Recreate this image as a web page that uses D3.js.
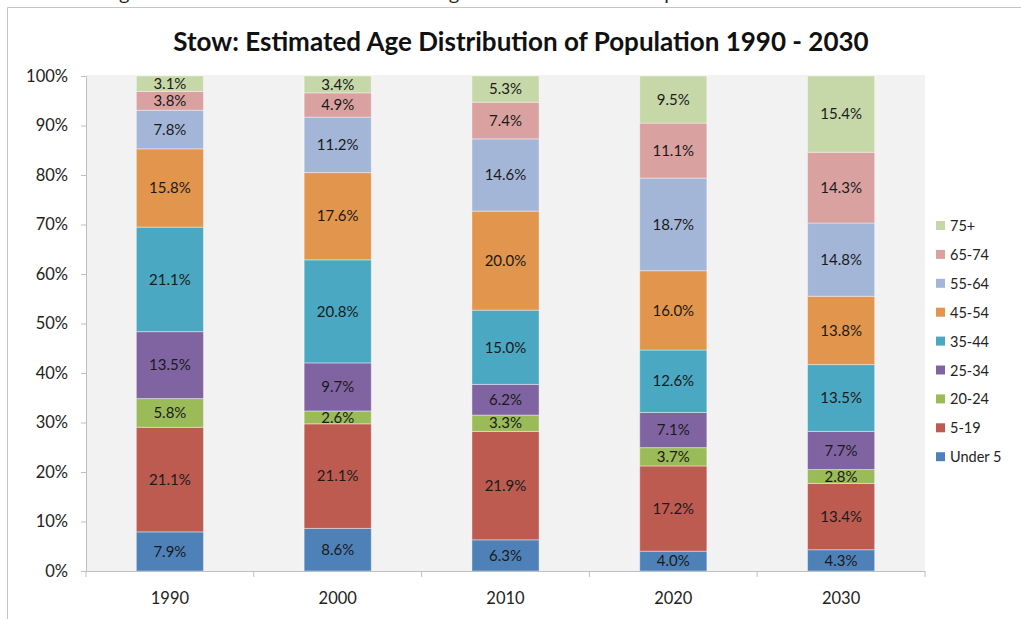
<!DOCTYPE html>
<html>
<head>
<meta charset="utf-8">
<script src="https://cdn.jsdelivr.net/npm/d3@7"></script>
<style>
  html, body { margin: 0; padding: 0; background: #fff; }
  svg { display: block; font-family: Lato, "Open Sans", sans-serif; }
</style>
</head>
<body>
<svg id="chart" width="1021" height="619"></svg>
<script>
const years = ["1990", "2000", "2010", "2020", "2030"];
const groups = ["Under 5", "5-19", "20-24", "25-34", "35-44", "45-54", "55-64", "65-74", "75+"];
const under5 = [7.9, 8.6, 6.3, 4.0, 4.3];
const age5to19 = [21.1, 21.1, 21.9, 17.2, 13.4];
const age20to24 = [5.8, 2.6, 3.3, 3.7, 2.8];
const age25to34 = [13.5, 9.7, 6.2, 7.1, 7.7];
const age35to44 = [21.1, 20.8, 15.0, 12.6, 13.5];
const age45to54 = [15.8, 17.6, 20.0, 16.0, 13.8];
const age55to64 = [7.8, 11.2, 14.6, 18.7, 14.8];
const age65to74 = [3.8, 4.9, 7.4, 11.1, 14.3];
const age75plus = [3.1, 3.4, 5.3, 9.5, 15.4];
const yTicks = [0, 0.1, 0.2, 0.3, 0.4, 0.5, 0.6, 0.7, 0.8, 0.9, 1.0];
const colors = ["#4f81b9", "#be5b51", "#9bbb59", "#8064a2", "#4ba8c2", "#e2954c", "#a4b6d8", "#d9a2a1", "#c6d7a8"];

const seriesValues = [under5, age5to19, age20to24, age25to34, age35to44, age45to54, age55to64, age65to74, age75plus];

const rows = years.map((yr, i) => {
  const r = { year: yr };
  groups.forEach((g, k) => { r[g] = seriesValues[k][i]; });
  return r;
});

const svg = d3.select("#chart");

// document caption partially cut off at top
svg.append("text")
  .attr("x", 103).attr("y", 0)
  .attr("font-size", 17).attr("fill", "#222")
  .attr("textLength", 633).attr("lengthAdjust", "spacingAndGlyphs")
  .text("Figure 1: Stow Estimated Shifts in the Age Distribution of the Population");

// frame
svg.append("line").attr("x1", 7.5).attr("x2", 1021).attr("y1", 7.5).attr("y2", 7.5).attr("stroke", "#c4c4c4");
svg.append("line").attr("x1", 7.5).attr("x2", 7.5).attr("y1", 7.5).attr("y2", 619).attr("stroke", "#c4c4c4");

const pLeft = 86, pRight = 925, pTop = 76, pBottom = 571;

const x = d3.scaleBand().domain(years).range([pLeft, pRight]).paddingInner(0.6).paddingOuter(0.3);
const y = d3.scaleLinear().domain([0, 1]).range([pBottom, pTop]);

// plot background
svg.append("rect").attr("x", pLeft).attr("y", pTop - 1).attr("width", pRight - pLeft).attr("height", pBottom - pTop + 1).attr("fill", "#f2f2f2");

// title
svg.append("text")
  .attr("x", 521).attr("y", 51)
  .attr("text-anchor", "middle")
  .attr("font-size", 26).attr("font-weight", "bold").attr("fill", "#111")
  .text("Stow: Estimated Age Distribution of Population 1990 - 2030");

const stack = d3.stack().keys(groups).offset(d3.stackOffsetExpand);
const stacked = stack(rows);

const layer = svg.append("g").selectAll("g").data(stacked).join("g")
  .attr("fill", (d, i) => colors[i]);

layer.selectAll("rect").data(d => d).join("rect")
  .attr("x", d => x(d.data.year))
  .attr("width", x.bandwidth())
  .attr("y", d => y(d[1]))
  .attr("height", d => y(d[0]) - y(d[1]))
  .attr("stroke", "rgba(255,255,255,0.4)")
  .attr("stroke-width", 1);

// data labels
stacked.forEach((s, k) => {
  svg.append("g").selectAll("text").data(s).join("text")
    .attr("x", d => x(d.data.year) + x.bandwidth() / 2)
    .attr("y", d => (y(d[0]) + y(d[1])) / 2)
    .attr("dy", "0.35em")
    .attr("text-anchor", "middle")
    .attr("font-size", 15).attr("fill", "#1a1a1a")
    .text(d => d.data[s.key].toFixed(1) + "%");
});

// y axis
const yAxis = svg.append("g").attr("transform", `translate(${pLeft},0)`)
  .call(d3.axisLeft(y).tickValues(yTicks).tickFormat(d3.format(".0%")).tickSize(5).tickSizeOuter(0).tickPadding(13));
yAxis.select(".domain").attr("stroke", "#bfbfbf");
yAxis.selectAll(".tick line").attr("stroke", "#bfbfbf");
yAxis.selectAll(".tick text").attr("font-size", 16.5).attr("fill", "#222").attr("font-family", "Lato, sans-serif");

// x axis
const xAxis = svg.append("g").attr("transform", `translate(0,${pBottom})`)
  .call(d3.axisBottom(x).tickSize(0).tickSizeOuter(0).tickPadding(21));
xAxis.select(".domain").attr("stroke", "#bfbfbf");
xAxis.selectAll(".tick text").attr("font-size", 16.5).attr("fill", "#222").attr("font-family", "Lato, sans-serif");
const gap = (x.step() - x.bandwidth()) / 2;
const bounds = years.map(yv => x(yv) - gap).concat([x(years[years.length - 1]) + x.bandwidth() + gap]);
xAxis.selectAll("line.sep").data(bounds).join("line").attr("class", "sep")
  .attr("x1", d => d).attr("x2", d => d).attr("y1", 0).attr("y2", 6)
  .attr("stroke", "#bfbfbf");

// legend
const legendOrder = groups.map((g, i) => ({ g, c: colors[i] })).reverse();
const lg = svg.append("g").selectAll("g").data(legendOrder).join("g")
  .attr("transform", (d, i) => `translate(936,${226 + i * 28.9})`);
lg.append("rect").attr("x", 0).attr("y", -5).attr("width", 9).attr("height", 9).attr("fill", d => d.c);
lg.append("text").attr("x", 14).attr("y", 0).attr("dy", "0.35em")
  .attr("font-size", 14.5).attr("fill", "#222").text(d => d.g);
</script>
</body>
</html>
